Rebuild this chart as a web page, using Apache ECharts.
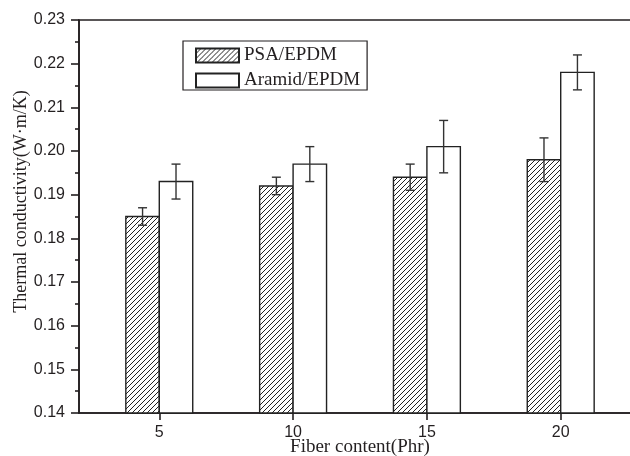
<!DOCTYPE html>
<html>
<head>
    <meta charset="UTF-8">
    <title>Thermal conductivity</title>
    <script src="https://cdnjs.cloudflare.com/ajax/libs/echarts/6.0.0/echarts.min.js"></script>
    <style>
        html, body { margin: 0; padding: 0; background: #fff; }
        #chart { width: 630px; height: 456px; }
    </style>
</head>
<body>
    <div id="chart"></div>
    <script>
        // data
        const fiberContent = [5, 10, 15, 20];
        const psaValues = [0.185, 0.192, 0.194, 0.198];
        const psaErrors = [0.002, 0.002, 0.003, 0.005];
        const aramidValues = [0.193, 0.197, 0.201, 0.218];
        const aramidErrors = [0.004, 0.004, 0.006, 0.004];
        const seriesNames = ['PSA/EPDM', 'Aramid/EPDM'];

        const yMin = 0.14;
        const yMax = 0.23;
        const barUnits = 1.25; // bar width in x units

        // hatch pattern
        function makeHatch() {
            const s = 5;
            const c = document.createElement('canvas');
            c.width = s; c.height = s;
            const ctx = c.getContext('2d');
            ctx.fillStyle = '#fff';
            ctx.fillRect(0, 0, s, s);
            ctx.strokeStyle = '#222';
            ctx.lineWidth = 1;
            ctx.beginPath();
            ctx.moveTo(0, s); ctx.lineTo(s, 0);
            ctx.moveTo(-1, 1); ctx.lineTo(1, -1);
            ctx.moveTo(s - 1, s + 1); ctx.lineTo(s + 1, s - 1);
            ctx.stroke();
            return c;
        }
        const hatch = { image: makeHatch(), repeat: 'repeat' };

        const chart = echarts.init(document.getElementById('chart'));

        function barRenderer(side, fill) {
            return function (params, api) {
                const x = api.value(0);
                const v = api.value(1);
                const err = api.value(2);
                const w = api.size([barUnits, 0])[0];
                const base = api.coord([x, yMin]);
                const top = api.coord([x, v]);
                const left = side < 0 ? base[0] - w : base[0];
                const cx = left + w / 2;
                const hi = api.coord([x, v + err])[1];
                const lo = api.coord([x, v - err])[1];
                const cap = 4.5;
                const ls = { stroke: '#333', lineWidth: 1.4 };
                return {
                    type: 'group',
                    children: [
                        { type: 'rect', shape: { x: left, y: top[1], width: w, height: base[1] - top[1] },
                          style: { fill: fill, stroke: '#222', lineWidth: 1.4 } },
                        { type: 'line', shape: { x1: cx, y1: hi, x2: cx, y2: lo }, style: ls },
                        { type: 'line', shape: { x1: cx - cap, y1: hi, x2: cx + cap, y2: hi }, style: ls },
                        { type: 'line', shape: { x1: cx - cap, y1: lo, x2: cx + cap, y2: lo }, style: ls }
                    ]
                };
            };
        }

        const serif = 'Liberation Serif';
        const sans = 'Liberation Sans';

        const option = {
            animation: false,
            grid: {
                left: 79, top: 20, right: -11, bottom: 43,
                outerBoundsMode: 'none',
                show: true, borderColor: '#231f20', borderWidth: 1.6
            },
            legend: {
                orient: 'vertical',
                left: 183, top: 41,
                data: seriesNames,
                itemWidth: 43, itemHeight: 14, itemGap: 6,
                padding: [5, 7, 0, 12],
                borderColor: '#231f20', borderWidth: 1.2,
                icon: 'rect',
                textStyle: { fontFamily: serif, fontSize: 19, color: '#231f20' }
            },
            xAxis: {
                type: 'value',
                min: 2, max: 23,
                name: 'Fiber content(Phr)',
                nameLocation: 'middle',
                nameGap: 25,
                nameMoveOverlap: false,
                nameTextStyle: { fontFamily: serif, fontSize: 19, color: '#231f20' },
                axisLine: { show: true, lineStyle: { color: '#231f20', width: 1.6 } },
                axisTick: { show: true, inside: false, length: 7, customValues: fiberContent,
                            lineStyle: { color: '#231f20', width: 1.6 } },
                axisLabel: { customValues: fiberContent, margin: 12,
                             fontFamily: sans, fontSize: 16, color: '#231f20' },
                splitLine: { show: false }
            },
            yAxis: {
                type: 'value',
                min: yMin, max: yMax, interval: 0.01,
                name: 'Thermal conductivity(W\u00b7m/K)',
                nameLocation: 'middle',
                nameGap: 49,
                nameMoveOverlap: false,
                nameTextStyle: { fontFamily: serif, fontSize: 18, color: '#231f20', padding: [0, 0, 0, 30] },
                axisLine: { show: true, lineStyle: { color: '#231f20', width: 1.6 } },
                axisTick: { show: true, inside: false, length: 8, lineStyle: { color: '#231f20', width: 1.6 } },
                minorTick: { show: true, splitNumber: 2, length: 4, lineStyle: { color: '#231f20', width: 1.6 } },
                axisLabel: { margin: 14, fontFamily: sans, fontSize: 16, color: '#231f20',
                             formatter: v => v.toFixed(2) },
                splitLine: { show: false }
            },
            series: [
                {
                    name: seriesNames[0],
                    type: 'custom',
                    renderItem: barRenderer(-1, hatch),
                    itemStyle: { color: hatch, borderColor: '#222', borderWidth: 1.2 },
                    encode: { x: 0, y: [1, 2] },
                    data: fiberContent.map((x, i) => [x, psaValues[i], psaErrors[i]])
                },
                {
                    name: seriesNames[1],
                    type: 'custom',
                    renderItem: barRenderer(1, '#fff'),
                    itemStyle: { color: '#fff', borderColor: '#222', borderWidth: 1.2 },
                    encode: { x: 0, y: [1, 2] },
                    data: fiberContent.map((x, i) => [x, aramidValues[i], aramidErrors[i]])
                }
            ]
        };

        chart.setOption(option);
    </script>
</body>
</html>
